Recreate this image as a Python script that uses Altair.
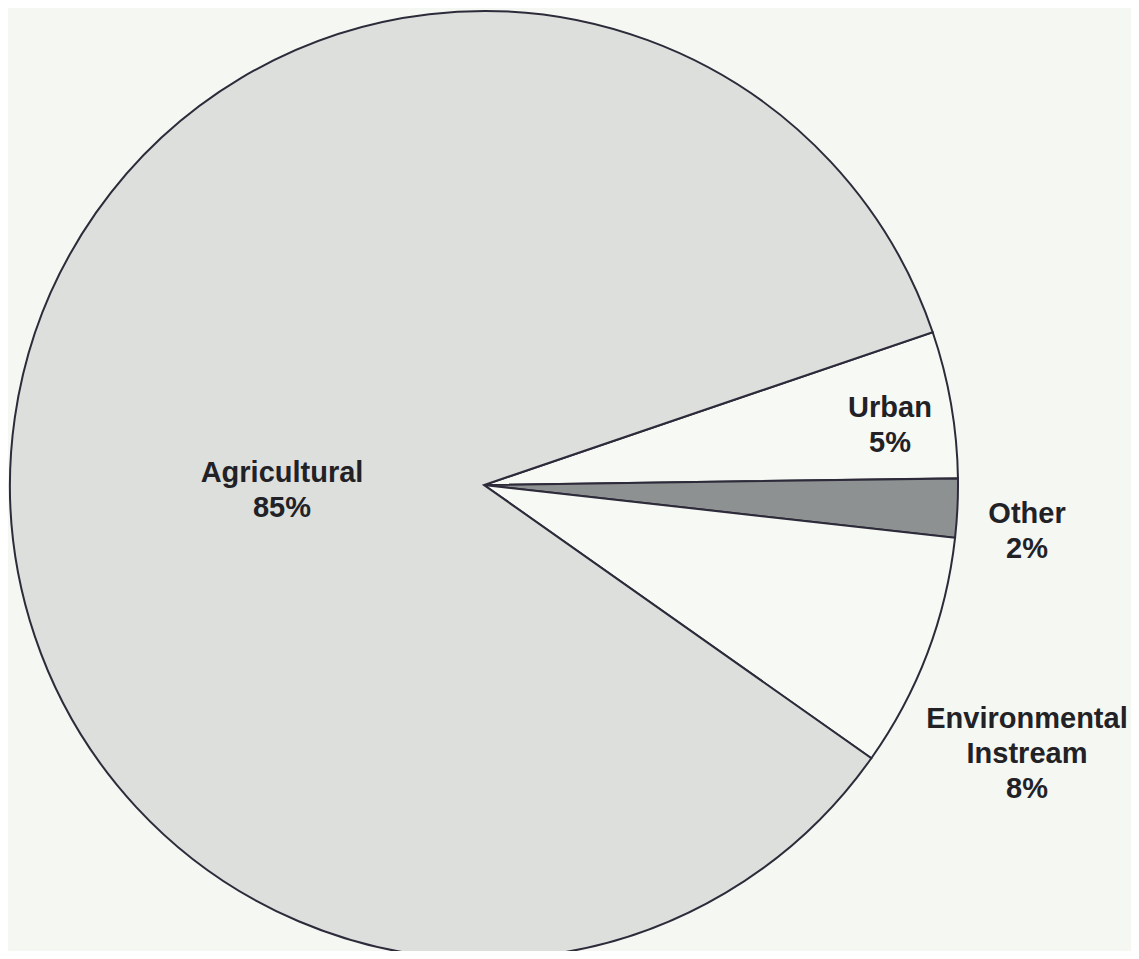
import math
import altair as alt
import pandas as pd

# Data
categories = ["Urban", "Other", "Environmental Instream", "Agricultural"]
shares = [5, 2, 8, 85]
fills = ["#f7f9f5", "#8e9191", "#f7f9f5", "#dcdfdc"]
label_texts = ["Urban\n5%", "Other\n2%", "Environmental\nInstream\n8%", "Agricultural\n85%"]

df = pd.DataFrame({
    "category": categories,
    "share": shares,
    "order": list(range(len(categories))),
})

# Annotation placement (plot-area pixels), separate from the data
label_x = [882, 1019, 1019, 274]
label_y = [409, 515, 720, 474]
labels_df = pd.DataFrame({"text": label_texts, "lx": label_x, "ly": label_y})

start = math.radians(71.2)

pie = alt.Chart(df).mark_arc(
    outerRadius=474, stroke="#2d2b3a", strokeWidth=2
).encode(
    theta=alt.Theta("share:Q", stack=True,
                    scale=alt.Scale(range=[start, start + 2 * math.pi])),
    order=alt.Order("order:Q"),
    color=alt.Color("category:N", legend=None,
                    scale=alt.Scale(domain=categories, range=fills)),
    x=alt.value(476),
    y=alt.value(477),
)

labels = alt.Chart(labels_df).mark_text(
    font="Liberation Sans", fontWeight="bold", fontSize=29,
    lineBreak="\n", lineHeight=35, align="center", baseline="alphabetic",
    color="#222226",
).encode(
    x=alt.X("lx:Q", scale=None),
    y=alt.Y("ly:Q", scale=None),
    text="text:N",
)

chart = alt.layer(pie, labels).properties(
    width=1123, height=943, autosize="none", padding=0,
    background="#f5f7f3",
).configure_view(stroke=None)

chart.save("out.html", embed_options={"renderer": "svg", "actions": False})
